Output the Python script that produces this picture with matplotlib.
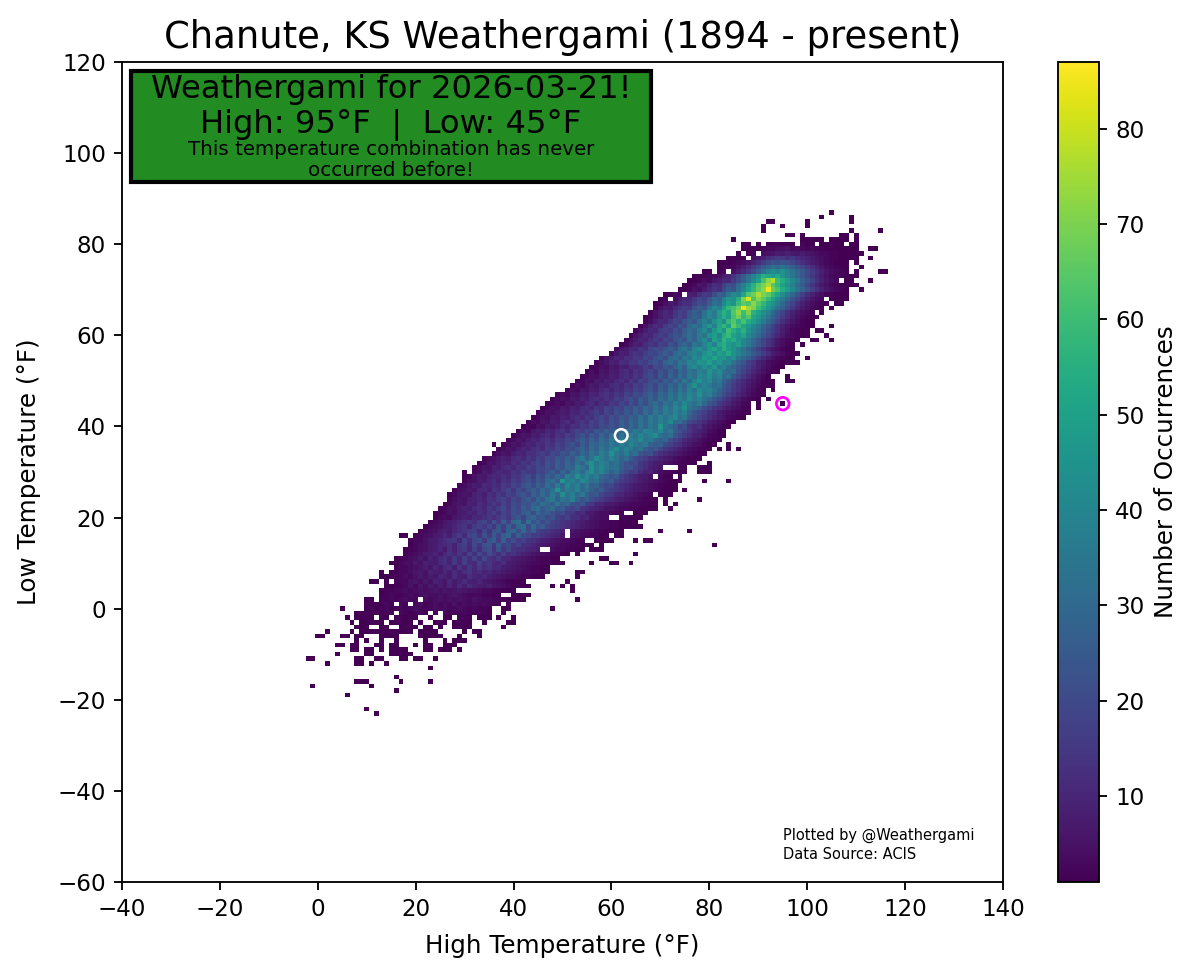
import matplotlib
matplotlib.use("Agg")
import matplotlib.pyplot as plt
from matplotlib.patches import Rectangle
import numpy as np

TITLE = "Chanute, KS Weathergami (1894 - present)"
HIGH_TODAY, LOW_TODAY = 95, 45
HIGH_NORMAL, LOW_NORMAL = 62, 38

# counts, one row per low temperature
# row_starts = high temperature of the first cell in the row, 0 = empty cell
row_lows = [-23, -22, -19, -18, -17, -16, -15, -13, -12, -11, -10, -9, -8, -7, -6, -5, -4, -3, -2, -1,
            0, 1, 2, 3, 4, 5, 6, 7, 8, 9, 10, 11, 12, 13, 14, 15, 16, 17, 18, 19,
            20, 21, 22, 23, 24, 25, 26, 27, 28, 29, 30, 31, 32, 33, 34, 35, 36, 37, 38, 39,
            40, 41, 42, 43, 44, 45, 46, 47, 48, 49, 50, 51, 52, 53, 54, 55, 56, 57, 58, 59,
            60, 61, 62, 63, 64, 65, 66, 67, 68, 69, 70, 71, 72, 73, 74, 75, 76, 77, 78, 79,
            80, 81, 82, 83, 84, 85, 86, 87]
row_starts = [12, 10, 6, 16, -1, 8, 16, 23, 2, -2, 4, 7, 4, 8, 0, 2, 8, 7, 6, 8,
              5, 10, 10, 13, 13, 14, 11, 13, 13, 16, 15, 16, 18, 18, 19, 19, 17, 21, 22, 23,
              24, 24, 25, 26, 27, 27, 28, 29, 30, 30, 30, 32, 33, 34, 36, 37, 36, 39, 40, 41,
              42, 43, 44, 45, 46, 47, 48, 49, 51, 52, 53, 54, 55, 56, 57, 58, 60, 61, 62, 63,
              64, 65, 66, 67, 67, 68, 69, 69, 70, 71, 74, 75, 76, 77, 79, 82, 82, 84, 86, 87,
              87, 85, 96, 91, 91, 92, 103, 105]
row_counts = [
    [1],
    [1],
    [1],
    [1],
    [1,0,0,0,0,0,0,0,0,0,0,0,1],
    [1,1,1,0,0,0,0,0,0,1,0,0,0,0,0,1],
    [1],
    [1],
    [1,0,0,0,0,0,1,1,0,1,0,0,1],
    [1,1,0,0,0,0,0,0,0,0,1,1,0,0,1,1,0,0,0,1,1,0,1,1,0,0,1],
    [1,0,0,0,0,0,1,1,0,0,0,1,1,1,1,1],
    [1,1,0,1,1,0,1,0,1,1,1,1,0,0,0,1,1,0,1,1,1,0,1],
    [1,1,0,1,1,0,0,0,1,1,0,1,1,0,0,0,1,0,1,1,0,0,1,1,1],
    [1,0,1,0,0,1,0,0,1,0,0,0,0,0,1,0,0,0,1,0,1,1,1],
    [1,1,0,0,0,1,1,0,1,1,0,0,0,1,1,1,1,0,0,0,0,1,1,1,1,1,0,0,0,1,0,0,0,1],
    [1,0,0,0,0,1,0,1,1,1,2,1,1,2,1,1,1,1,0,1,1,1,1,0,0,0,0,0,1,0,1,1],
    [1,1,1,0,0,1,2,0,0,1,2,1,1,0,1,1,0,1,0,0,1,2,1,1,0,0,0,0,0,0,1],
    [1,0,1,1,2,1,1,0,1,2,2,1,1,0,1,0,0,1,2,1,0,1,2,2,1,0,0,1,0,0,0,0,1,1],
    [1,0,1,1,2,1,0,2,1,0,2,2,1,2,1,0,0,1,0,0,2,1,0,2,2,1,0,1,1,1,0,1,0,0,1],
    [1,1,2,1,2,1,2,2,0,3,2,1,2,3,2,0,2,0,3,2,3,2,3,2,2,3,2,1,0,0,1],
    [1,0,0,0,0,1,2,1,2,3,1,2,3,2,3,4,3,2,3,4,3,4,3,3,4,3,2,3,2,2,1,0,0,1,1,0,0,0,0,0,0,0,0,1],
    [2,1,2,1,3,2,0,3,2,0,3,4,2,3,4,3,4,3,5,3,4,3,4,3,4,3,2,1,0,1],
    [1,1,0,2,2,3,2,3,4,3,3,0,4,3,4,5,4,5,4,5,4,3,5,4,3,3,2,2,2,1,1,1,1,0,0,0,0,0,0,0,0,0,0,1],
    [1,2,3,2,2,3,4,3,4,5,4,4,5,4,5,6,5,4,3,3,3,2,2,1,1,0,0,1,1,1,1],
    [1,2,2,3,3,4,3,4,5,4,5,6,5,6,5,6,7,6,5,5,4,3,3,2,2,1,1,1,0,0,0,0,0,0,0,0,0,0,0,1],
    [1,1,2,2,3,5,3,6,4,7,5,8,6,10,7,11,8,12,9,8,7,9,6,5,4,3,2,2,1,1,0,0,0,0,1,0,1,0,1],
    [1,1,0,1,0,2,3,3,5,6,4,7,5,9,8,6,11,7,9,12,9,8,10,7,6,5,4,3,2,1,1,1,0,0,0,0,0,0,0,0,1],
    [1,1,2,2,3,4,3,5,7,5,8,6,10,9,7,12,9,8,13,10,9,11,8,7,6,5,4,4,3,2,2,1,1,1,0,0,0,0,0,0,1],
    [1,0,1,2,3,3,4,6,7,5,9,8,7,11,8,12,9,13,14,10,12,9,11,8,9,7,6,5,4,3,3,2,2,1,1,0,0,0,0,0,1,1],
    [2,3,3,4,5,6,8,6,10,7,11,12,8,14,10,15,11,16,12,14,10,11,8,7,6,5,4,3,2,2,1,1],
    [1,1,3,4,4,7,5,9,8,7,11,13,9,15,10,17,12,11,18,13,15,11,10,12,8,7,6,5,4,3,3,2,2,1,1,1,0,0,0,0,0,1,0,0,0,1,1,0,0,1],
    [1,2,3,4,5,7,5,9,7,11,13,9,15,11,17,12,18,13,20,14,12,15,11,10,8,7,6,5,4,3,2,2,1,1,0,0,0,0,0,0,0,0,1,1],
    [2,3,4,5,7,8,10,7,11,14,10,15,11,18,13,20,14,21,16,13,17,12,14,11,9,8,6,5,4,3,2,2,1,1,0,1,0,0,0,0,0,0,0,0,0,0,0,1],
    [1,2,3,4,5,7,8,10,7,13,9,14,16,11,18,13,20,22,14,23,15,19,14,13,12,10,9,8,0,0,4,3,3,2,2,1,1,0,1,1,1],
    [1,3,4,5,7,8,10,11,13,9,15,17,12,20,14,22,24,15,25,17,20,15,18,13,12,10,9,7,6,5,4,3,3,2,2,1,1,1,0,1,0,0,0,0,0,0,0,0,0,0,0,0,0,0,0,0,0,0,0,0,0,0,1],
    [2,3,3,5,7,8,10,12,14,15,10,18,13,19,22,15,24,26,17,27,18,21,16,18,14,13,11,9,8,6,5,4,4,3,2,2,0,0,1,1,1,1,0,0,0,0,1,0,1,1],
    [1,1,0,2,3,4,5,7,8,11,8,13,16,11,18,20,14,22,16,25,18,26,29,18,27,20,19,16,17,14,12,10,9,7,0,5,4,3,3,2,2,1,1,0,1,1],
    [1,3,4,5,7,9,7,11,12,14,16,17,12,20,14,23,25,16,27,29,21,30,21,26,18,16,15,13,11,9,0,6,5,4,4,3,2,2,1,1,1,1,0,0,0,0,0,0,0,1,0,0,0,0,0,1],
    [1,3,4,5,7,8,10,12,14,10,16,18,15,20,14,23,17,26,19,29,31,20,30,22,26,19,17,15,14,12,10,9,7,6,5,4,3,3,2,2,1,1,1,1,1],
    [2,3,4,6,8,9,11,13,15,12,17,20,14,23,16,26,18,29,32,20,33,22,27,20,24,18,16,14,13,11,9,8,6,5,4,3,3,2,2,1,1,1,1],
    [1,3,4,3,6,7, 9,8,11,10,13,15,12,16,19,15, 21,24,18,26,29,22,25,20,23,17, 15,18,12,13,9,10,6,5,4,4, 0,0,2,2,1,1,1],
    [1,2,3,5,4,7, 8,10,9,13,11,14,17,13,19,16, 22,20,25,28,21,30,24,27,22,20, 21,16,15,11,12,8,7,5,4,4, 3,2,2,0,0,1,1,1],
    [2,3,5,4,7, 9,8,11,12,10,15,13,17,20,15, 22,19,26,23,29,33,25,28,31,24, 26,20,18,21,14,13,10,9,7,5, 5,4,3,3,2,2,1,1,1,1,0,0,1],
    [2,3,5,6, 5,9,8,12,10,13,16,12,18,15, 21,19,24,22,28,25,33,29,26,35, 27,30,23,21,24,16,15,11,10,8, 7,6,4,4,3,3,2,2,1,1,0,1,0,1],
    [2,4,6, 5,8,9,11,9,14,12,16,18,14, 20,17,23,26,21,29,25,32,36,27, 34,31,38,28,24,27,21,18,16,13, 11,9,8,6,5,4,3,2,2,1,0,1, 0,0,0,0,0,0,1],
    [1,3,5, 6,5,9,10,8,13,11,15,13,18, 16,21,24,19,27,23,31,26,35,29, 43,33,37,30,35,27,23,25,19,16, 15,11,10,8,7,5,4,3,2,0,1,1,1],
    [2,4, 5,7,6,10,11,9,14,12,16,19, 14,21,18,24,27,22,30,26,33,46, 31,37,34,40,29,33,27,24,26,20, 17,15,13,10,8,7,6,5,4,3,2,1,1,1,0,1],
    [3, 4,6,8,7,11,10,13,11,16,14, 19,17,22,25,20,28,24,31,27,36, 30,41,34,38,30,35,26,28,22,19, 20,15,13,11,9,7,6,5,4,3,2,1,1,1],
    [2,4,5,8,7,10,12,9,14,12, 17,15,19,22,18,25,21,29,32,26, 47,35,39,33,42,37,31,34,27,24, 26,19,16,14,12,10,8,6,5,4,3,2,1,1,1, 0,0,0,0,1,0,0,0,0,1],
    [1,3,5,7,6,9,11,10,13,11, 15,14,18,21,16,24,20,28,24,31, 27,38,34,45,36,41,33,37,29,26, 23,25,18,15,13,10,8,7,5,0,3,1,1,0,1],
    [1,0,3,4,7,6,9,11,10,10, 14,13,17,15,15,20,18,22,26,21, 29,24,33,36,30,39,44,35,41,33, 27,31,24,20,16,17,12,9,10,6, 4,3,2,1,1,1, 0,0,1,1,1],
    [2,4,6,5,9,8,11,13, 10,14,13,17,15,20,18,23,19,26, 23,30,27,37,33,28,45,36,41,35, 31,34,26,22,24,18,15,12,9,8,6,0,0,0,2,1, 0,0,1,1,1],
    [2,3,6,5,8,10,9, 12,11,15,13,17,20,16,23,19,26, 22,29,25,33,28,38,44,34,39,36, 30,33,27,23,20,21,15,13,10,8,7,5,4,3,2,2,1,1, 0,0,1],
    [2,4,5,7,9,8, 11,13,10,15,13,18,16,21,19,25, 22,28,24,31,36,27,34,42,37,33, 39,34,28,31,25,21,18,16,13,11,9,7,6,4,3,2,1,1,1],
    [2,4,6,5, 8,10,9,13,12,15,17,14,20,18, 24,21,27,23,30,26,34,29,38,33, 44,35,31,37,29,33,24,21,22,16,13,11,9,7,6,4,3,2,1,1],
    [2,4,6, 5,8,10,9,12,14,11,16,15,19, 17,22,20,25,28,23,31,27,35,30, 37,42,33,39,35,30,34,26,23,25, 19,15,13,10,8,6,4,3,2,2,1,0,1, 0,1,0,1],
    [1,0,2,4, 6,5,8,10,9,13,11,15,13,18, 16,20,23,18,26,22,30,27,33,29, 36,31,38,34,41,35,32,36,28,25, 27,20,18,14,12,9,7,5,4,2,1,1, 0,0,1],
    [2, 4,6,5,8,10,9,12,14,11,16, 15,19,17,22,26,21,28,24,31,27, 35,30,37,33,39,35,42,34,36,30, 27,29,21,18,15,11,9,7,5,3,2,1,1],
    [2,4,6,5,8,7,10,12,9,14, 12,17,15,19,23,18,25,21,29,24, 32,27,34,30,37,33,40,35,38,43, 33,29,31,23,19,16,12,9,8,5,3,2,1,1],
    [2,4,3,6,8,7,10,9,12, 14,11,15,19,16,21,18,25,22,27, 24,31,28,35,30,36,33,40,37,34, 41,31,35,26,22,18,15,11,9,7,4,3,1,1],
    [1,3,2,5,4,7,6,8,11,9, 13,12,16,14,18,15,21,19,24,20, 27,23,30,25,33,28,35,31,46,34, 30,26,19,22,14,11,13,8,6,4, 3,1,1],
    [2,4,3,6,5,8,7, 10,12,9,13,15,12,18,16,21,17, 24,20,27,23,30,26,33,28,36,31, 38,34,41,30,33,25,20,17,14,11,8,6,4,3,1,1],
    [2,3,5,4,7,6, 9,8,11,13,10,15,13,17,20,16, 22,19,25,22,28,25,32,27,36,31, 39,33,37,42,31,35,26,22,18,15,12,9,7,5,3,2,1,1],
    [2,3,5,4,6, 8,7,10,9,13,11,14,17,13,19, 16,22,19,25,21,28,24,31,27,35, 30,37,33,40,34,38,29,24,20,17,13,11,8,6,4,3,2,1,1],
    [2,3,5,4, 7,6,9,8,11,13,10,15,13,18, 16,20,18,24,21,27,23,30,26,33, 29,37,32,41,36,44,34,30,26,21, 18,14,12,9,7,5,4,2,1,0,1],
    [2,3,4, 3,6,5,8,7,10,12,9,13,11, 16,14,19,16,22,18,25,21,28,31, 26,34,30,38,33,41,36,32,37,29, 24,21,15,13,10,7,5,3,2,0,1, 0,0,0,0,1],
    [2,3, 5,4,7,6,9,8,11,13,10,14, 12,17,15,19,22,18,25,21,28,24, 32,27,35,30,38,34,42,36,39,33, 29,24,20,16,12,9,7,4,3,2,1, 0,1],
    [2, 4,3,6,5,8,7,10,9,12,14, 11,15,13,18,16,21,19,24,27,22, 30,26,34,29,37,33,41,36,44,35, 38,30,26,21,17,14,10,8,5,3,2,1],
    [2,4,3,6,5,8,7,10,12, 9,13,11,15,14,18,16,21,24,19, 27,23,31,26,35,29,38,33,42,37, 40,34,28,24,19,15,12,9,6,4,2,1, 0,1],
    [2,4,3,5,7,6,9,8, 11,13,10,14,12,17,15,20,23,18, 26,22,29,25,33,28,37,44,35,40, 36,30,33,25,21,16,13,10,7,5,3,2,1,1],
    [2,3,5,4,7,6,9, 8,11,13,10,15,12,18,16,21,24, 20,27,23,31,26,35,30,39,46,37, 42,33,36,27,23,18,14,11,8,6,4,2,1,1, 0,0,1,1],
    [2,3,5,4,7,6, 9,8,11,13,10,15,13,18,21,17, 24,20,28,24,31,27,36,32,41,38, 44,36,40,30,33,24,19,15,11,8,5,3,1, 0,0,0,1],
    [2,4,3,6,5, 8,7,10,12,9,14,12,17,20,16, 23,19,27,22,30,26,34,31,39,36, 46,38,42,33,29,31,22,18,14,10,7,5,3,2,1],
    [2,3,5,4,7,6,9,8,12,11,13,17,14,21,19,25,22,28,34,27,38,42,36,45,39,47,36,40,31, 28,24,20,16,12,9,6,4,2,1,1],
    [2,4,6,9,8,12,11,15,14,18,16,21,24,20,28,31,26,35,33,41,38,46,44,50,42,46,38,40,33,27,24,17,14,9,7,4,3,2,1,2,1,1],
    [2,5,7,10,9,13,12,16,15,19,17,22,25,21,29,32,27,36,34,42,39,48,45,52,44,47,40,43,34,29,25,20,15,11,8,5,3,2,1,1,0,0,1],
    [3,6,9,8,12,14,13,17,20,18,23,26,22,30,33,29,37,41,36,44,49,42,50,46,53,44,40,35,31,25,21,16,12,8,6,4,2,1,1],
    [3,6,8,11,10,14,13,18,21,19,24,27,23,31,35,30,39,44,37,47,52,45,55,48,44,38,34,27,23,17,13,9,6,4,2,1,1],
    [1,3,6,9,8,12,15,13,18,16,22,20,26,30,25,35,32,40,46,39,51,55,48,44,49,40,35,29,24,19,14,10,6,4,2,1,0,1],
    [2,4,7,10,9,13,16,14,19,17,23,27,22,31,28,36,42,33,49,45,57,50,54,46,41,36,29,24,18,14,10,6,4,3,2,1,0,0,1,1,0,0,1],
    [2,5,8,11,10,14,17,15,20,24,21,28,32,27,37,34,44,49,41,54,59,50,46,52,40,35,30,24,19,14,10,7,4,3,2,1,1,0,0,0,1],
    [2,5,8,11,10,15,18,16,22,19,26,31,28,36,42,34,47,53,46,60,55,49,56,44,38,33,26,21,16,12,8,5,3,2,1,1,0,1,1],
    [2,5,9,12,10,16,19,17,24,21,29,34,30,39,46,37,52,58,49,66,59,52,47,41,35,28,23,17,13,9,6,4,3,2,1,1,0,0,0,1],
    [2,4,8,11,10,15,19,17,23,27,24,32,38,33,45,51,42,58,64,55,62,54,49,42,36,29,24,18,13,9,6,4,2,1,1],
    [1,3,5,8,11,10,15,19,16,24,28,25,34,40,36,47,55,48,62,68,58,64,52,47,40,34,27,22,16,12,8,5,3,2,1,1],
    [2,5,8,11,9,14,18,16,23,27,24,33,41,36,48,56,50,64,72,60,70,56,50,43,37,30,24,18,13,9,6,4,3,2,0,1],
    [2,5,8,7,11,14,17,15,22,27,24,33,41,37,49,58,62,68,84,74,70,60,53,46,39,33,27,21,15,11,7,5,3,2,1,0,1],
    [1,2,5,7,6,10,13,12,17,21,19,26,33,30,41,50,45,59,66,63,72,64,58,50,44,37,30,24,18,13,9,6,4,3,2,1,0,1,1],
    [1,3,0,4,8,11,10,15,19,17,24,30,28,38,46,43,55,70,82,62,72,65,58,50,43,36,30,23,18,13,9,6,4,3,0,1,1,1,1],
    [1,2,4,3,0,9,8,13,16,15,21,28,25,35,42,40,52,63,68,76,70,66,58,51,43,36,29,23,17,12,9,6,4,2,2,1,1,1],
    [1,1,3,5,4,8,11,14,12,19,25,23,33,40,50,58,66,72,85,68,62,54,48,41,34,28,22,17,12,9,6,4,3,2,1,0,0,1],
    [1,2,3,6,5,9,12,11,17,22,21,30,38,46,56,64,70,76,64,58,50,44,37,31,25,19,14,10,7,5,3,2,1,1,1,1],
    [1,1,2,4,3,6,8,11,10,16,21,27,34,42,50,62,72,78,60,54,48,41,35,28,23,18,13,9,6,4,3,0,1,1,0,0,0,1],
    [1,1,2,3,3,5,8,10,14,19,25,32,39,46,55,52,48,53,44,39,34,29,24,19,15,11,8,5,3,2,2,1,1,1],
    [1,1,0,2,3,0,5,8,11,15,20,26,33,38,43,40,44,39,34,29,25,20,16,12,9,6,4,3,2,1,0,1,0,0,0,0,1,1],
    [1,2,2,3,5,8,11,15,20,25,28,32,29,33,30,26,22,19,15,12,9,6,4,3,2,1,1,0,0,1],
    [1,1,1,2,3,4,6,9,12,16,20,23,21,24,22,19,16,13,10,8,6,4,3,2,1,1,1,0,1],
    [1,1,1,2,0,5,7,9,12,14,16,15,13,15,12,10,9,7,5,4,3,2,2,1,1,1,1,0,0,1],
    [1,0,1,2,0,4,5,6,8,7,9,7,6,8,6,5,4,3,3,2,2,1,1,1,1,1],
    [1,1,1,1,2,3,3,4,4,5,3,4,3,2,3,2,2,1,1,1,1,1,1,1,0,0,1,1],
    [1,1,0,1,0,1,2,2,1,1,1,0,2,1,1,0,1,1,2,1,1,0,1,1],
    [1,0,0,0,0,0,0,0,0,0,0,0,0,0,1,1,1,1,1,0,1,1,1,1,0,1],
    [1,1,0,1,0,0,0,0,0,0,0,1,1,0,1],
    [1,0,0,0,0,0,0,0,0,0,0,0,0,0,0,0,0,0,1,0,0,0,0,0,1],
    [1,0,0,0,1,0,0,0,0,1],
    [1,1,0,0,0,0,0,0,1,0,0,0,0,0,0,0,0,1],
    [1,0,0,0,0,0,1],
    [1],
]

high_edges = np.arange(-40.5, 141.5, 1)
low_edges = np.arange(-60.5, 121.5, 1)
grid = np.zeros((len(low_edges) - 1, len(high_edges) - 1))
for low, start, counts in zip(row_lows, row_starts, row_counts):
    for i, c in enumerate(counts):
        grid[low + 60, start + 40 + i] = c

DPI = 166
fig = plt.figure(figsize=(1200 / DPI, 977 / DPI), dpi=DPI)
ax = fig.add_axes([122 / 1200, 1 - 882 / 977, 881 / 1200, 820 / 977])
cax = fig.add_axes([1058 / 1200, 1 - 882 / 977, 41 / 1200, 820 / 977])

mesh = ax.pcolormesh(high_edges, low_edges, np.ma.masked_equal(grid, 0),
                     cmap="viridis", vmin=1, vmax=87)
cbar = fig.colorbar(mesh, cax=cax)
cbar.set_label("Number of Occurrences", fontsize=10.7)
cbar.set_ticks([10, 20, 30, 40, 50, 60, 70, 80])

ax.scatter([HIGH_NORMAL], [LOW_NORMAL], s=30, facecolor="none", edgecolor="white", linewidth=1.1, zorder=5)
ax.scatter([HIGH_TODAY], [LOW_TODAY], s=30, facecolor="none", edgecolor="magenta", linewidth=1.2, zorder=5)

ax.set_xlim(-40, 140)
ax.set_ylim(-60, 120)
ax.set_xticks(range(-40, 141, 20))
ax.set_yticks(range(-60, 121, 20))
ax.set_xlabel("High Temperature (°F)", fontsize=10.7, labelpad=5.7)
ax.set_ylabel("Low Temperature (°F)", fontsize=10.7, labelpad=7)
ax.set_title(TITLE, fontsize=16)

# green call-out box
ax.add_patch(Rectangle((9 / 881, 1 - 120 / 820), 520 / 881, 111 / 820, transform=ax.transAxes,
                       facecolor="forestgreen", edgecolor="black", linewidth=1.8, zorder=6))
box_x = 269 / 881
ax.text(box_x, 1 - 27 / 820, "Weathergami for 2026-03-21!", transform=ax.transAxes,
        ha="center", va="center", fontsize=14, color="black", zorder=7)
ax.text(box_x, 1 - 63 / 820, "High: 95°F  |  Low: 45°F", transform=ax.transAxes,
        ha="center", va="center", fontsize=14, color="black", zorder=7)
ax.text(box_x, 1 - 98 / 820, "This temperature combination has never\noccurred before!", transform=ax.transAxes,
        ha="center", va="center", fontsize=8.6, color="black", linespacing=1.1, zorder=7)

ax.text(95, -51.9, "Plotted by @Weathergami\nData Source: ACIS", fontsize=6.35, ha="left", va="center", linespacing=1.33)

fig.savefig("out.png", dpi=DPI)
